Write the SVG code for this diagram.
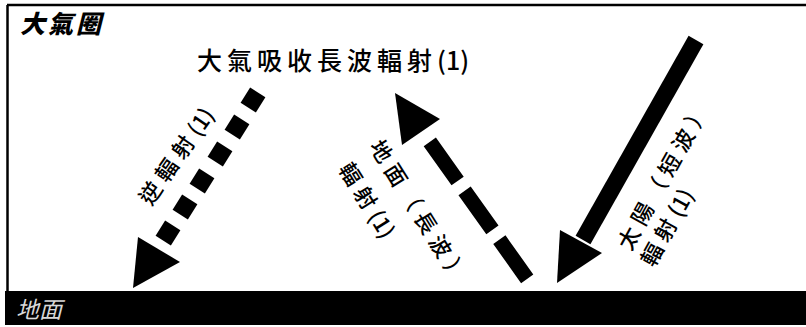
<svg xmlns="http://www.w3.org/2000/svg" width="806" height="327" viewBox="0 0 806 327">
<style>
.t{font-family:"Noto Sans CJK TC","Noto Sans CJK SC",sans-serif;fill:#000}
.lbl{font-size:22px;letter-spacing:6px;dominant-baseline:central;font-weight:500}
.p{letter-spacing:0}
.sq{fill:#000}
</style>
<rect x="0" y="0" width="806" height="327" fill="#fff"/>
<g id="frame">
<line x1="7" y1="5" x2="806" y2="5" stroke="#000" stroke-width="2.5"/>
<line x1="7.5" y1="5" x2="7.5" y2="292" stroke="#000" stroke-width="2.5"/>
</g>
<g id="atmosphere">
<text class="t" x="20" y="33" font-size="25" font-weight="900" font-style="italic" letter-spacing="3">大氣圈</text>
</g>
<g id="ground">
<rect x="5" y="291" width="801" height="34" fill="#000"/>
<text class="t" x="16" y="318" font-size="23" font-style="italic" style="fill:#fff" opacity="0.85">地面</text>
</g>
<g id="absorb-label">
<text class="t" x="197" y="70" font-size="25" font-weight="500" letter-spacing="5">大氣吸收長波輻射<tspan class="p">(1)</tspan></text>
</g>
<g id="connectors">
<g id="back-radiation">
<rect class="sq" x="-9" y="-9" width="18" height="18" transform="translate(253,100) rotate(32)"/>
<rect class="sq" x="-9" y="-9" width="18" height="18" transform="translate(237,127) rotate(32)"/>
<rect class="sq" x="-9" y="-9" width="18" height="18" transform="translate(220,154) rotate(32)"/>
<rect class="sq" x="-9" y="-9" width="18" height="18" transform="translate(202,181) rotate(32)"/>
<rect class="sq" x="-9" y="-9" width="18" height="18" transform="translate(185,207) rotate(32)"/>
<rect class="sq" x="-9" y="-9" width="18" height="18" transform="translate(168,233) rotate(32)"/>
<polygon points="138,237 180,262 133,288" fill="#000"/>
</g>
<g id="ground-radiation">
<line x1="429.8" y1="141.9" x2="527.2" y2="278.8" stroke="#000" stroke-width="15" stroke-dasharray="48 12"/>
<polygon points="395,93 440,119 402,145" fill="#000"/>
</g>
<g id="solar-radiation">
<line x1="696" y1="40" x2="583" y2="240" stroke="#000" stroke-width="17"/>
<polygon points="560,230 602,253 557,283" fill="#000"/>
</g>
</g>
<g id="back-label">
<text class="t lbl" text-anchor="middle" transform="translate(175,155) rotate(-55)" font-size="22" letter-spacing="3">逆輻射<tspan class="p">(1)</tspan></text>
</g>
<g id="ground-label">
<g transform="translate(377,141) rotate(58)">
<text class="t lbl" x="0" y="0">地面（長波）</text>
<text class="t lbl" x="3" y="38">輻射<tspan class="p">(1)</tspan></text>
</g>
</g>
<g id="solar-label">
<g transform="translate(622,247) rotate(-61)">
<text class="t lbl" x="0" y="0">太陽（短波）</text>
<text class="t lbl" x="-3" y="28">輻射<tspan class="p">(1)</tspan></text>
</g>
</g>
</svg>
